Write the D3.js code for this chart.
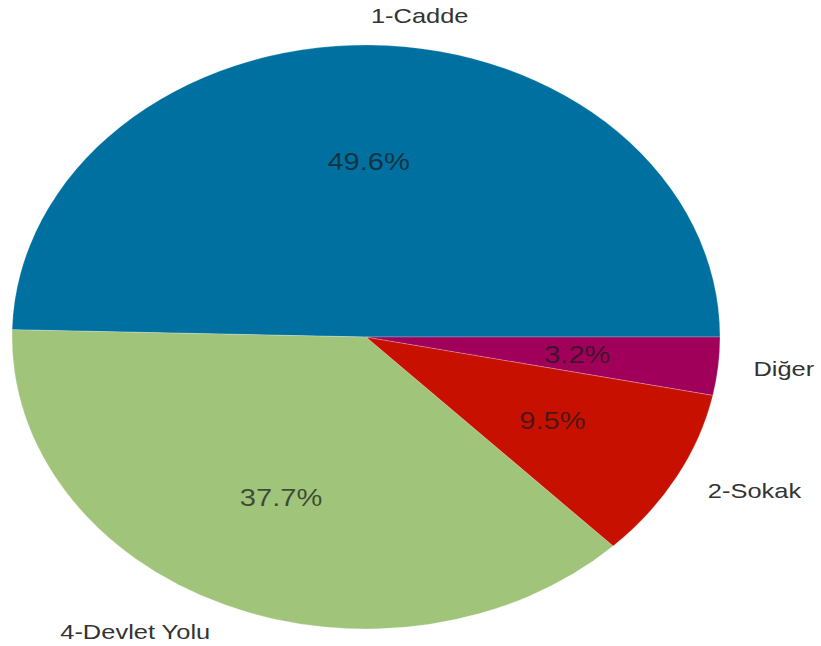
<!DOCTYPE html>
<html>
<head>
<meta charset="utf-8">
<script src="https://cdn.jsdelivr.net/npm/d3@7"></script>
<style>
  html, body { margin: 0; padding: 0; background: #fff; }
  svg { display: block; }
</style>
</head>
<body>
<svg id="chart" width="821" height="646"></svg>
<script>
// Road-type shares, listed counter-clockwise from 3 o'clock
const categories = ["1-Cadde", "4-Devlet Yolu", "2-Sokak", "Diğer"];
const shares = [49.6, 37.7, 9.5, 3.2];
const colors = ["#0070a0", "#a0c47a", "#c81000", "#a0005a"];

const W = 821, H = 646;
const cx = 366, cy = 337;
const R = 292;              // radius along the vertical
const stretchX = 354 / 292; // the figure is drawn wider than tall

const svg = d3.select("#chart");
const g = svg.append("g")
  .attr("transform", `translate(${cx},${cy}) scale(${stretchX},1)`);

// start at 3 o'clock and run counter-clockwise
const pie = d3.pie()
  .sort(null)
  .value(d => d)
  .startAngle(Math.PI / 2)
  .endAngle(Math.PI / 2 - 2 * Math.PI);

const arcs = pie(shares);
const arc = d3.arc().innerRadius(0).outerRadius(R);

g.selectAll("path.slice")
  .data(arcs)
  .join("path")
  .attr("class", "slice")
  .attr("d", arc)
  .attr("fill", (d, i) => colors[i])
  .attr("stroke", "#ffffff")
  .attr("stroke-opacity", 0.35)
  .attr("stroke-width", 0.6);

function pointAt(d, k) {
  const a = (d.startAngle + d.endAngle) / 2; // d3: 0 at top, clockwise
  return [Math.sin(a) * R * k, -Math.cos(a) * R * k];
}

// category labels outside the rim
g.selectAll("text.label")
  .data(arcs)
  .join("text")
  .attr("class", "label")
  .attr("x", d => pointAt(d, 1.1)[0])
  .attr("y", d => pointAt(d, 1.1)[1])
  .attr("text-anchor", d => pointAt(d, 1.1)[0] >= 0 ? "start" : "end")
  .attr("dominant-baseline", "central")
  .attr("font-family", "'Liberation Sans', Arial, sans-serif")
  .attr("font-size", 21)
  .attr("fill", "#333333")
  .text((d, i) => categories[i]);

// percentage labels inside the slices
g.selectAll("text.pct")
  .data(arcs)
  .join("text")
  .attr("class", "pct")
  .attr("x", d => pointAt(d, 0.6)[0])
  .attr("y", d => pointAt(d, 0.6)[1])
  .attr("text-anchor", "middle")
  .attr("dominant-baseline", "central")
  .attr("font-family", "'Liberation Sans', Arial, sans-serif")
  .attr("font-size", 24)
  .attr("fill", "#1a1a1a")
  .attr("fill-opacity", 0.72)
  .text(d => d.data.toFixed(1) + "%");
</script>
</body>
</html>
